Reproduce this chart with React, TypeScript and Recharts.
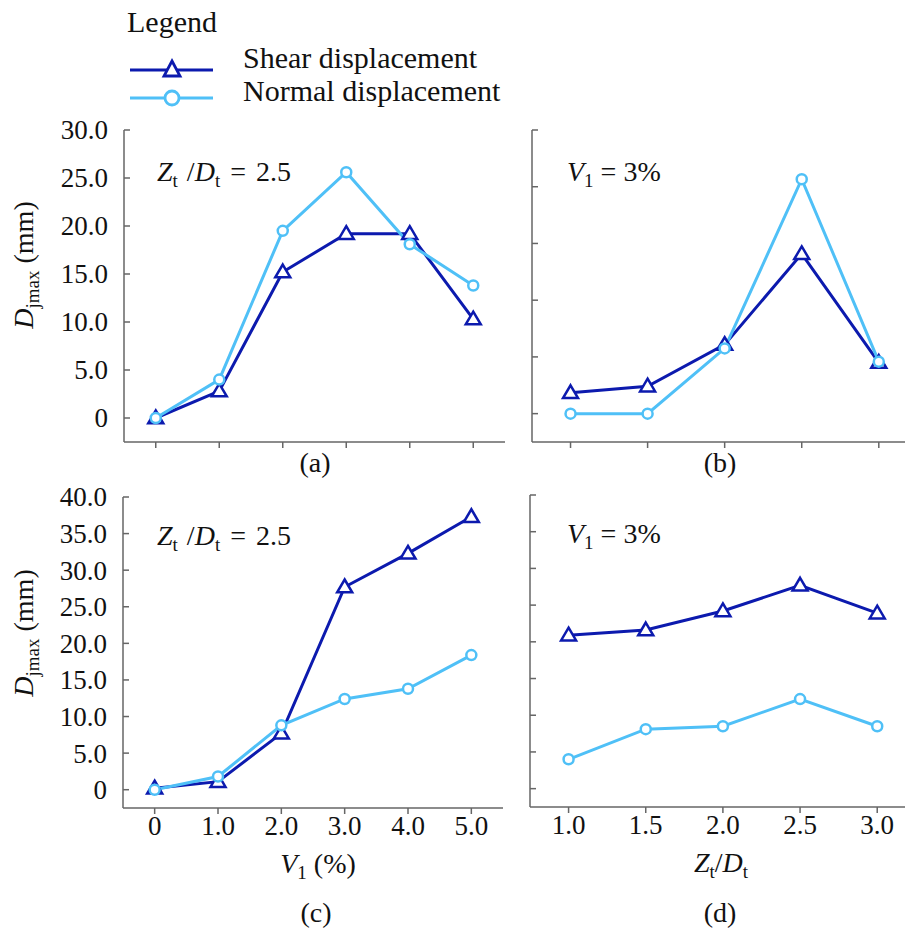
import React from 'react';
import { LineChart, Line, XAxis, YAxis } from 'recharts';

// x categories
const V1 = [0, 1, 2, 3, 4, 5];
const ZT_DT = [1.0, 1.5, 2.0, 2.5, 3.0];

// panel (a): Zt/Dt = 2.5
const shearA = [0, 2.8, 15.2, 19.2, 19.2, 10.3];
const normalA = [0, 4.0, 19.5, 25.6, 18.1, 13.8];
// panel (b): V1 = 3%
const shearB = [2.2, 2.9, 7.3, 16.9, 5.4];
const normalB = [0, 0, 6.9, 24.8, 5.5];
// panel (c): Zt/Dt = 2.5
const shearC = [0.2, 1.1, 7.7, 27.7, 32.3, 37.3];
const normalC = [0, 1.8, 8.8, 12.4, 13.8, 18.4];
// panel (d): V1 = 3%
const shearD = [20.9, 21.6, 24.2, 27.7, 23.9];
const normalD = [4.0, 8.1, 8.5, 12.2, 8.5];

// ticks
const yTicksA = [0, 5, 10, 15, 20, 25, 30];
const yTicksB = [0, 6, 12, 18, 24, 30];
const yTicksC = [0, 5, 10, 15, 20, 25, 30, 35, 40];

const DARK = '#0c1aae';
const LIGHT = '#4fc0f7';
const AXIS = '#666';
const INK = '#111';
const FONT = 'Liberation Serif';

const fmt = (v: number) => (v === 0 ? '0' : v.toFixed(1));

const build = (xs: number[], shear: number[], normal: number[]) =>
  xs.map((x, i) => ({ x, shear: shear[i], normal: normal[i] }));

const triDot = (p: any) => {
  const { cx, cy, index } = p;
  if (cx == null || cy == null) return <g key={`t${index}`} />;
  const s = 7.5;
  return (
    <path
      key={`t${index}`}
      d={`M${cx},${cy - s} L${cx + s},${cy + s * 0.7} L${cx - s},${cy + s * 0.7} Z`}
      fill="#fff"
      stroke={DARK}
      strokeWidth={2.5}
    />
  );
};

const circDot = (p: any) => {
  const { cx, cy, index } = p;
  if (cx == null || cy == null) return <g key={`c${index}`} />;
  return <circle key={`c${index}`} cx={cx} cy={cy} r={5} fill="#fff" stroke={LIGHT} strokeWidth={2.5} />;
};

// y ticks point inward, labels sit outside on the left
const yTick = (axisX: number, showLabel: boolean) => (p: any) => {
  const { y, payload } = p;
  return (
    <g>
      <line x1={axisX} x2={axisX + 6} y1={y} y2={y} stroke={AXIS} strokeWidth={1.5} />
      {showLabel && (
        <text x={axisX - 16} y={y} dy="0.35em" textAnchor="end" fontFamily={FONT} fontSize={27} fill={INK}>
          {fmt(payload.value)}
        </text>
      )}
    </g>
  );
};

const xTick = (showLabel: boolean) => (p: any) => {
  const { x, y, payload } = p;
  if (!showLabel) return <g />;
  return (
    <text x={x} y={y} dy="0.71em" textAnchor="middle" fontFamily={FONT} fontSize={27} fill={INK}>
      {fmt(payload.value)}
    </text>
  );
};

interface PanelProps {
  left: number;
  top: number;
  width: number;
  height: number;
  data: any[];
  xDomain: number[];
  xTicks: number[];
  yDomain: number[];
  yTicks: number[];
  yAxisW: number;
  marginTop: number;
  marginRight: number;
  xAxisH: number;
  showYLabels: boolean;
  showXLabels: boolean;
}

const Panel = (p: PanelProps) => (
  <div style={{ position: 'absolute', left: p.left, top: p.top, fontFamily: FONT }}>
    <LineChart
      width={p.width}
      height={p.height}
      data={p.data}
      style={{ fontFamily: FONT }}
      margin={{ top: p.marginTop, right: p.marginRight, bottom: 0, left: 0 }}
    >
      <XAxis
        dataKey="x"
        type="number"
        domain={p.xDomain}
        ticks={p.xTicks}
        interval={0}
        allowDataOverflow
        height={p.xAxisH}
        stroke={AXIS}
        strokeWidth={1.5}
        tickSize={6}
        tick={xTick(p.showXLabels)}
      />
      <YAxis
        type="number"
        domain={p.yDomain}
        ticks={p.yTicks}
        interval={0}
        allowDataOverflow
        width={p.yAxisW}
        stroke={AXIS}
        strokeWidth={1.5}
        tickLine={false}
        tick={yTick(p.yAxisW, p.showYLabels)}
      />
      <Line type="linear" dataKey="shear" stroke={DARK} strokeWidth={3} dot={triDot} isAnimationActive={false} />
      <Line type="linear" dataKey="normal" stroke={LIGHT} strokeWidth={3} dot={circDot} isAnimationActive={false} />
    </LineChart>
  </div>
);

const T = ({ size = 28, children, ...rest }: any) => (
  <text fill={INK} fontFamily={FONT} fontSize={size} {...rest}>
    {children}
  </text>
);

const Sub = ({ children }: any) => (
  <tspan fontSize={19} dy={6}>
    {children}
  </tspan>
);

const ZtDtNote = ({ x, y }: { x: number; y: number }) => (
  <T x={x} y={y}>
    <tspan fontStyle="italic">Z</tspan>
    <Sub>t</Sub>
    <tspan dy={-6} dx={2}>{'\u00a0/'}</tspan>
    <tspan fontStyle="italic">D</tspan>
    <Sub>t</Sub>
    <tspan dy={-6} dx={3}>{'\u00a0='}</tspan>
    <tspan dx={3}>{'\u00a02.5'}</tspan>
  </T>
);

const V1Note = ({ x, y }: { x: number; y: number }) => (
  <T x={x} y={y}>
    <tspan fontStyle="italic">V</tspan>
    <Sub>1</Sub>
    <tspan dy={-6}>{'\u00a0= 3%'}</tspan>
  </T>
);

const YLabel = ({ x, y }: { x: number; y: number }) => (
  <T transform={`translate(${x},${y}) rotate(-90)`} textAnchor="middle">
    <tspan fontStyle="italic">D</tspan>
    <Sub>jmax</Sub>
    <tspan dy={-6}>{'\u00a0(mm)'}</tspan>
  </T>
);

export default function App() {
  return (
    <div style={{ position: 'absolute', left: 0, top: 0, width: 905, height: 933, background: '#fff', overflow: 'hidden', fontFamily: FONT }}>
      <Panel
        left={0} top={100} width={520} height={360}
        data={build(V1, shearA, normalA)}
        xDomain={[-0.5, 5.5]} xTicks={V1}
        yDomain={[-2.5, 30]} yTicks={yTicksA}
        yAxisW={124} marginTop={30} marginRight={15} xAxisH={18}
        showYLabels showXLabels={false}
      />
      <Panel
        left={520} top={100} width={385} height={360}
        data={build(ZT_DT, shearB, normalB)}
        xDomain={[0.75, 3.17]} xTicks={ZT_DT}
        yDomain={[-3, 30]} yTicks={yTicksB}
        yAxisW={12} marginTop={30} marginRight={0} xAxisH={18}
        showYLabels={false} showXLabels={false}
      />
      <Panel
        left={0} top={470} width={520} height={380}
        data={build(V1, shearC, normalC)}
        xDomain={[-0.5, 5.5]} xTicks={V1}
        yDomain={[-2.5, 40]} yTicks={yTicksC}
        yAxisW={123} marginTop={27} marginRight={17} xAxisH={42}
        showYLabels showXLabels
      />
      <Panel
        left={520} top={470} width={385} height={380}
        data={build(ZT_DT, shearD, normalD)}
        xDomain={[0.75, 3.18]} xTicks={ZT_DT}
        yDomain={[-2.5, 40]} yTicks={yTicksC}
        yAxisW={10} marginTop={25} marginRight={0} xAxisH={43}
        showYLabels={false} showXLabels
      />

      <svg width={905} height={933} style={{ position: 'absolute', left: 0, top: 0, pointerEvents: 'none', fontFamily: FONT }}>
        {/* legend */}
        <T x={127} y={32} size={30}>Legend</T>
        <line x1={130} x2={213} y1={70} y2={70} stroke={DARK} strokeWidth={3} />
        <path d="M172,61 L180,76 L164,76 Z" fill="#fff" stroke={DARK} strokeWidth={2.8} />
        <T x={243} y={68} size={30}>Shear displacement</T>
        <line x1={130} x2={213} y1={98} y2={98} stroke={LIGHT} strokeWidth={3} />
        <circle cx={172} cy={98} r={7} fill="#fff" stroke={LIGHT} strokeWidth={2.8} />
        <T x={243} y={101} size={30}>Normal displacement</T>

        {/* notes */}
        <ZtDtNote x={157} y={181} />
        <V1Note x={567} y={181} />
        <ZtDtNote x={157} y={545} />
        <V1Note x={567} y={543} />

        {/* axis titles */}
        <YLabel x={33} y={265} />
        <YLabel x={33} y={633} />
        <T x={318} y={873} textAnchor="middle">
          <tspan fontStyle="italic">V</tspan>
          <Sub>1</Sub>
          <tspan dy={-6}>{'\u00a0(%)'}</tspan>
        </T>
        <T x={721} y={872} textAnchor="middle">
          <tspan fontStyle="italic">Z</tspan>
          <Sub>t</Sub>
          <tspan dy={-6}>/</tspan>
          <tspan fontStyle="italic">D</tspan>
          <Sub>t</Sub>
        </T>

        {/* captions */}
        <T x={315} y={472} textAnchor="middle">(a)</T>
        <T x={720} y={472} textAnchor="middle">(b)</T>
        <T x={316} y={922} textAnchor="middle">(c)</T>
        <T x={720} y={922} textAnchor="middle">(d)</T>
      </svg>
    </div>
  );
}
